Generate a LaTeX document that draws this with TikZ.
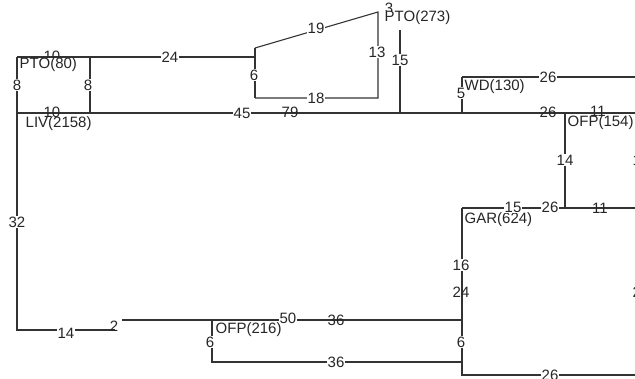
\documentclass[tikz,border=0pt]{standalone}
\usepackage{fontspec}
\setmainfont{Liberation Sans}

\begin{document}
\begin{tikzpicture}[x=1pt,y=-1pt]
    \tikzset{
    pipe/.style={draw=black!80, line width=1.1pt},
    len/.style={fill=white, inner sep=1pt, text=black!85, font=\fontsize{15}{16}\selectfont},
    lenover/.style={len, fill=none},
    site/.style={len, anchor=west, inner sep=0.5pt},
    }
    \useasboundingbox (0,0) rectangle (635,379);

    % junctions
    \coordinate (a1) at (17,57);
    \coordinate (a2) at (90,57);
    \coordinate (a3) at (255,57);
    \coordinate (a4) at (255,48);
    \coordinate (a5) at (378,12);
    \coordinate (a6) at (378,98);
    \coordinate (a7) at (255,98);
    \coordinate (b1) at (17,113);
    \coordinate (b2) at (90,113);
    \coordinate (b3) at (400,113);
    \coordinate (b4) at (462,113);
    \coordinate (b5) at (565,113);
    \coordinate (bR) at (635,113);
    \coordinate (c1) at (400,30);
    \coordinate (w1) at (462,77);
    \coordinate (wR) at (635,77);
    \coordinate (g1) at (462,208);
    \coordinate (g2) at (565,208);
    \coordinate (gR) at (635,208);
    \coordinate (g3) at (462,320);
    \coordinate (g4) at (462,362);
    \coordinate (g5) at (462,375);
    \coordinate (gB) at (635,375);
    \coordinate (o1) at (122,320);
    \coordinate (o2) at (212,320);
    \coordinate (o3) at (212,362);
    \coordinate (l1) at (17,330);
    \coordinate (l2) at (115,330);

    \draw[pipe] (a1) -- (a3);
    \draw[pipe] (a4) -- (a7);
    \draw[pipe] (a4) -- (a5) -- (a6) -- (a7);
    \draw[pipe] (a2) -- (b2);
    \draw[pipe] (a1) -- (l1) -- (l2);
    \draw[pipe] (b1) -- (bR);
    \draw[pipe] (c1) -- (b3);
    \draw[pipe] (w1) -- (wR);
    \draw[pipe] (w1) -- (b4);
    \draw[pipe] (b5) -- (g2);
    \draw[pipe] (g1) -- (gR);
    \draw[pipe] (g1) -- (g5) -- (gB);
    \draw[pipe] (o1) -- (g3);
    \draw[pipe] (o2) -- (o3) -- (g4);

    % lengths hidden under the site names
    \node[lenover] (t10) at (52,56) {10};
    \node[lenover] (m10) at (52,112) {10};
    \node[lenover] (m11) at (598,111) {11};
    \node[lenover] (t3) at (389,8) {3};

    % sites
    \node[site] (pto80) at (19,65) {PTO(80)};
    \node[site] (liv) at (25,124) {LIV(2158)};
    \node[site] (pto273) at (384,18) {PTO(273)};
    \node[site] (wd) at (464,87) {WD(130)};
    \node[site] (ofp154) at (567,123) {OFP(154)};
    \node[site] (gar) at (464,220) {GAR(624)};
    \node[site] (ofp216) at (215,330) {OFP(216)};

    % lengths
    \node[len] (n24) at (170,57) {24};
    \node[len] (n19) at (316,28) {19};
    \node[len] (n6) at (254,75) {6};
    \node[len] (n13) at (377,52) {13};
    \node[len] (n18) at (316,98) {18};
    \node[len] (n15) at (400,60) {15};
    \node[len] (l8) at (17,85) {8};
    \node[len] (r8) at (88,85) {8};
    \node[len] (n45) at (242,113) {45};
    \node[lenover] (n79) at (290,112) {79};
    \node[len] (w26) at (548,77) {26};
    \node[len] (n5) at (461,93) {5};
    \node[lenover] (m26) at (548,112) {26};
    \node[len] (n14) at (565,160) {14};
    \node[len] (g15) at (513,207) {15};
    \node[len] (g26) at (550,207) {26};
    \node[lenover] (g11) at (600,208) {11};
    \node[len] (n16) at (461,265) {16};
    \node[lenover] (v24) at (461,292) {24};
    \node[len] (v6) at (461,342) {6};
    \node[len] (b26) at (550,375) {26};
    \node[len] (n50) at (288,318) {50};
    \node[lenover] (u36) at (336,320) {36};
    \node[len] (d36) at (336,362) {36};
    \node[len] (n14b) at (66,333) {14};
    \node[lenover] (n2) at (114,326) {2};
    \node[len] (n32) at (17,222) {32};
    \node[len] (o6) at (210,342) {6};
    \node[lenover] (e14) at (641,160) {14};
    \node[lenover] (e24) at (641,292) {24};
\end{tikzpicture}
\end{document}
